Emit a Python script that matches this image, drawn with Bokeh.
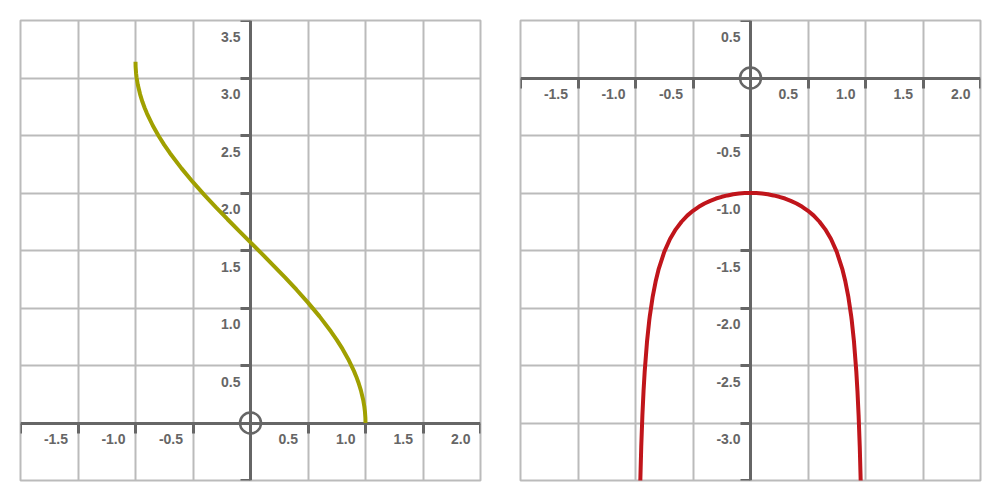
from bokeh.plotting import figure
from bokeh.models import LinearAxis, Grid, FixedTicker, Range1d
from bokeh.layouts import row
from bokeh.embed import file_html
from bokeh.resources import INLINE
from bokeh.core.properties import value

# ---- data ----
# left panel: arccos-like curve
acos_x = [-1.0, -0.999, -0.995, -0.99, -0.98, -0.96, -0.94, -0.92, -0.9, -0.85, -0.8,
          -0.75, -0.7, -0.6, -0.5, -0.4, -0.3, -0.2, -0.1, 0.0, 0.1, 0.2, 0.3, 0.4,
          0.5, 0.6, 0.7, 0.75, 0.8, 0.85, 0.9, 0.92, 0.94, 0.96, 0.98, 0.99, 0.995,
          0.999, 1.0]
acos_y = [3.142, 3.097, 3.042, 3.000, 2.941, 2.858, 2.793, 2.739, 2.691, 2.587, 2.498,
          2.419, 2.346, 2.214, 2.094, 1.982, 1.875, 1.772, 1.671, 1.571, 1.471, 1.369,
          1.266, 1.159, 1.047, 0.927, 0.795, 0.723, 0.644, 0.555, 0.451, 0.403, 0.348,
          0.284, 0.200, 0.142, 0.100, 0.045, 0.0]

# right panel: derivative curve
deriv_x = [-0.98, -0.97, -0.96, -0.95, -0.94, -0.93, -0.92, -0.9, -0.88, -0.875, -0.85,
           -0.825, -0.8, -0.75, -0.7, -0.65, -0.6, -0.55, -0.5, -0.45, -0.4, -0.35,
           -0.3, -0.25, -0.2, -0.15, -0.1, -0.05, 0.0, 0.05, 0.1, 0.15, 0.2, 0.25,
           0.3, 0.35, 0.4, 0.45, 0.5, 0.55, 0.6, 0.65, 0.7, 0.75, 0.8, 0.825, 0.85,
           0.875, 0.88, 0.9, 0.92, 0.93, 0.94, 0.95, 0.96, 0.97, 0.98]
deriv_y = [-5.025, -4.113, -3.571, -3.203, -2.931, -2.721, -2.552, -2.294, -2.105,
           -2.066, -1.898, -1.770, -1.667, -1.512, -1.400, -1.316, -1.250, -1.197,
           -1.155, -1.120, -1.091, -1.068, -1.048, -1.033, -1.021, -1.011, -1.005,
           -1.001, -1.000, -1.001, -1.005, -1.011, -1.021, -1.033, -1.048, -1.068,
           -1.091, -1.120, -1.155, -1.197, -1.250, -1.316, -1.400, -1.512, -1.667,
           -1.770, -1.898, -2.066, -2.105, -2.294, -2.552, -2.721, -2.931, -3.203,
           -3.571, -4.113, -5.025]

x_ticks = [-2.0, -1.5, -1.0, -0.5, 0.0, 0.5, 1.0, 1.5, 2.0]
left_y_ticks = [-0.5, 0.0, 0.5, 1.0, 1.5, 2.0, 2.5, 3.0, 3.5]
right_y_ticks = [-3.5, -3.0, -2.5, -2.0, -1.5, -1.0, -0.5, 0.0, 0.5]

x_labels = ["-1.5", "-1.0", "-0.5", "0.5", "1.0", "1.5", "2.0"]
left_y_labels = ["0.5", "1.0", "1.5", "2.0", "2.5", "3.0", "3.5"]
right_y_labels = ["0.5", "-0.5", "-1.0", "-1.5", "-2.0", "-2.5", "-3.0"]

x_range_vals = (-2.0, 2.0)
left_y_range_vals = (-0.5, 3.5)
right_y_range_vals = (-3.5, 0.5)

AXIS_COLOR = "#666666"
GRID_COLOR = "#bbbbbb"
FONT = "Liberation Sans"


def make_panel(y_ticks, y_range, y_labels, cx, cy, color, border_left, border_right):
    p = figure(width=border_left + 460 + border_right, height=492,
               output_backend="svg", toolbar_location=None,
               x_axis_type=None, y_axis_type=None,
               x_range=Range1d(*x_range_vals), y_range=Range1d(*y_range),
               min_border_left=border_left, min_border_right=border_right,
               min_border_top=20, min_border_bottom=12,
               background_fill_color="white", border_fill_color="white",
               outline_line_color=GRID_COLOR, outline_line_width=2)
    p.add_layout(Grid(dimension=0, ticker=FixedTicker(ticks=x_ticks),
                      grid_line_color=GRID_COLOR, grid_line_width=2, level="image"))
    p.add_layout(Grid(dimension=1, ticker=FixedTicker(ticks=y_ticks),
                      grid_line_color=GRID_COLOR, grid_line_width=2, level="image"))

    for side, ticks in (("below", x_ticks), ("left", y_ticks)):
        ax = LinearAxis(fixed_location=0, ticker=FixedTicker(ticks=ticks),
                        axis_line_color=AXIS_COLOR, axis_line_width=3,
                        major_tick_line_color=AXIS_COLOR, major_tick_line_width=3,
                        major_tick_out=10, major_tick_in=0,
                        minor_tick_line_color=None,
                        major_label_text_font_size="0px", major_label_text_alpha=0,
                        level="underlay")
        p.add_layout(ax, side)

    xl_vals = [float(s) for s in x_labels]
    p.text(x=xl_vals, y=[0] * len(xl_vals), text=x_labels,
           x_offset=-10, y_offset=16, text_align="right", text_baseline="middle",
           text_font=value(FONT), text_font_style="bold", text_font_size="14px",
           text_color=AXIS_COLOR)
    yl_vals = [float(s) for s in y_labels]
    p.text(x=[0] * len(yl_vals), y=yl_vals, text=y_labels,
           x_offset=-10, y_offset=16, text_align="right", text_baseline="middle",
           text_font=value(FONT), text_font_style="bold", text_font_size="14px",
           text_color=AXIS_COLOR)

    p.scatter(x=[0], y=[0], marker="circle", size=21, fill_color=None,
              line_color=AXIS_COLOR, line_width=2.5)

    p.line(x=cx, y=cy, line_color=color, line_width=4)
    return p


p1 = make_panel(left_y_ticks, left_y_range_vals, left_y_labels, acos_x, acos_y,
                "#a0a000", 20, 20)
p2 = make_panel(right_y_ticks, right_y_range_vals, right_y_labels, deriv_x, deriv_y,
                "#c0151b", 20, 12)

layout = row(p1, p2)
open("out.html", "w").write(file_html(layout, INLINE))
